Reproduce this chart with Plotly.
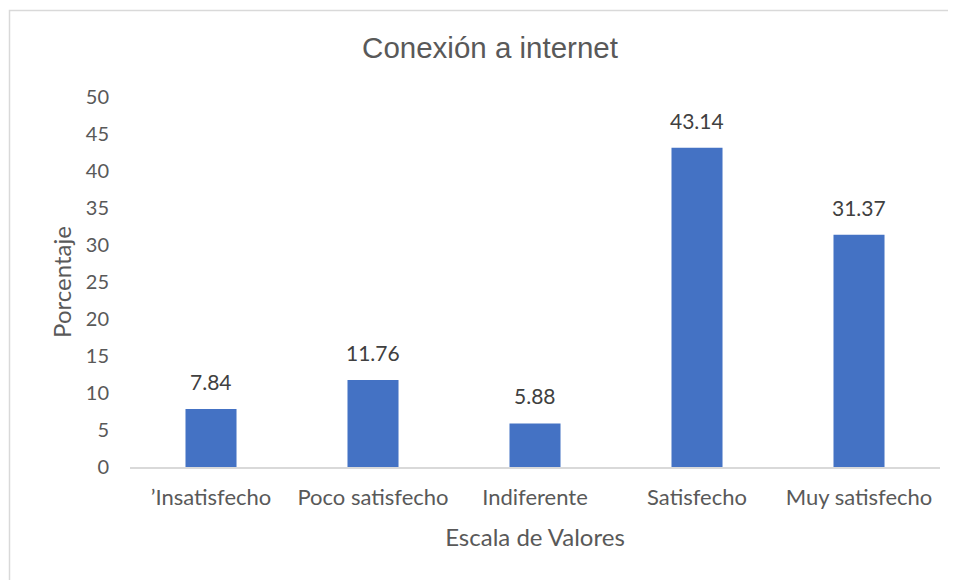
import plotly.graph_objects as go

categorias = ["’Insatisfecho", "Poco satisfecho", "Indiferente", "Satisfecho", "Muy satisfecho"]
porcentajes = [7.84, 11.76, 5.88, 43.14, 31.37]
ticks_y = [0, 5, 10, 15, 20, 25, 30, 35, 40, 45, 50]

gris = "#595959"
# la página pone el gráfico 8 px desplazado (margen del body)
off = 8

fig = go.Figure()
fig.add_trace(go.Bar(
    x=categorias,
    y=porcentajes,
    marker=dict(color="#4472C4", line=dict(width=0)),
    hoverinfo="x+y",
))

# etiquetas de datos encima de cada barra
for cat, val in zip(categorias, porcentajes):
    fig.add_annotation(
        x=cat, y=val, text=f"{val:.2f}",
        showarrow=False, yanchor="bottom", yshift=13,
        font=dict(family="Lato", size=21, color="#404040"),
    )

fig.update_layout(
    width=956 - off,
    height=580 - off,
    margin=dict(l=130 - off, r=16, t=97 - off, b=113),
    paper_bgcolor="white",
    plot_bgcolor="white",
    bargap=0.685,
    showlegend=False,
    title=dict(
        text="Conexión a internet",
        x=(490 - off) / (956 - off),
        xanchor="center",
        y=1 - (48 - off) / (580 - off),
        yanchor="middle",
        font=dict(family="Liberation Sans Narrow, Liberation Sans", size=29.5, color=gris),
    ),
    xaxis=dict(
        title=dict(text="Escala de Valores", font=dict(family="Lato", size=24, color=gris), standoff=20),
        tickfont=dict(family="Lato", size=22, color=gris),
        showline=True,
        linecolor="#D9D9D9",
        linewidth=1.5,
        ticks="outside",
        ticklen=10,
        tickcolor="white",
        showgrid=False,
    ),
    yaxis=dict(
        title=dict(text="Porcentaje", font=dict(family="Lato", size=24, color=gris), standoff=7),
        tickfont=dict(family="Lato", size=20, color=gris),
        range=[0, 50],
        tickvals=ticks_y,
        showgrid=False,
        zeroline=False,
        showline=False,
        ticks="outside",
        ticklen=16,
        tickcolor="white",
    ),
    shapes=[dict(
        type="rect", xref="paper", yref="paper",
        x0=(9.5 - 130) / 810, x1=1.2,
        y0=-0.5, y1=(467 - 10.5) / 370,
        line=dict(color="#D9D9D9", width=1.5),
        fillcolor="rgba(0,0,0,0)",
        layer="below",
    )],
)

fig.write_html("out.html")
